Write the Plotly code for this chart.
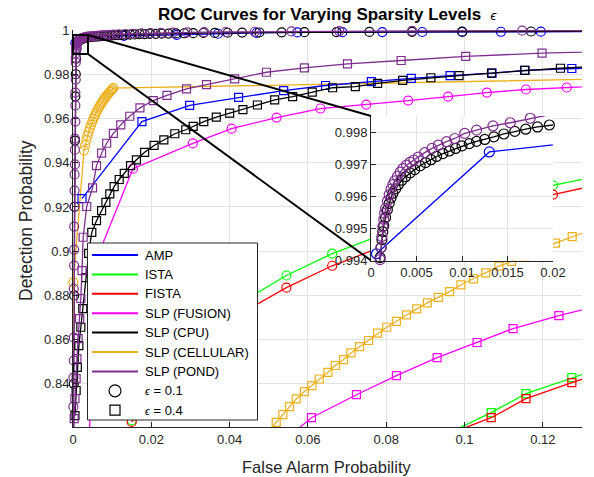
import plotly.graph_objects as go

# ---------------- data ----------------
AMP_E1_X = [0.0006, 0.0130, 0.0265, 0.0370, 0.0469, 0.0573, 0.0688, 0.0790, 0.0892, 0.0994, 0.1093, 0.1195, 0.1400]
AMP_E1_Y = [0.99421, 0.99738, 0.9978, 0.9983, 0.9987, 0.9989, 0.9990, 0.99905, 0.9991, 0.99915, 0.9992, 0.99925, 0.9993]
AMP_E4_X = [0.0023, 0.0176, 0.0298, 0.0423, 0.0538, 0.0645, 0.0762, 0.0864, 0.0963, 0.1070, 0.1154, 0.1274, 0.1400]
AMP_E4_Y = [0.9238, 0.9586, 0.9659, 0.9695, 0.9726, 0.9749, 0.9767, 0.9781, 0.9794, 0.9805, 0.9817, 0.9826, 0.9834]

ISTA_E1_X = [0.0150, 0.0260, 0.0360, 0.0450, 0.0545, 0.0662, 0.0775, 0.0890, 0.1000, 0.1112, 0.1226, 0.1340]
ISTA_E1_Y = [0.8235, 0.8490, 0.8670, 0.8790, 0.8890, 0.8989, 0.9065, 0.9135, 0.9195, 0.9250, 0.9297, 0.9340]
ISTA_E4_X = [0.0960, 0.1068, 0.1157, 0.1274, 0.1380]
ISTA_E4_Y = [0.8178, 0.8270, 0.8356, 0.8428, 0.8490]

FISTA_E1_X = [0.0150, 0.0260, 0.0360, 0.0450, 0.0545, 0.0662, 0.0775, 0.0890, 0.1000, 0.1112, 0.1226, 0.1340]
FISTA_E1_Y = [0.8228, 0.8450, 0.8620, 0.8740, 0.8835, 0.8934, 0.9010, 0.9080, 0.9140, 0.9200, 0.9256, 0.9300]
FISTA_E4_X = [0.0950, 0.1068, 0.1157, 0.1274, 0.1380]
FISTA_E4_Y = [0.8167, 0.8247, 0.8333, 0.8406, 0.8466]

FUSION_E1_X = [0.0040, 0.0052, 0.0153, 0.0306, 0.0405, 0.0520, 0.0632, 0.0749, 0.0856, 0.0958, 0.1057, 0.1157, 0.1261, 0.1380]
FUSION_E1_Y = [0.8000, 0.8928, 0.9373, 0.9487, 0.9554, 0.9604, 0.9645, 0.9663, 0.9681, 0.9699, 0.9717, 0.9731, 0.9740, 0.9750]
FUSION_E4_X = [0.0530, 0.0609, 0.0724, 0.0826, 0.0930, 0.1032, 0.1124, 0.1241, 0.1370]
FUSION_E4_Y = [0.8130, 0.8247, 0.8351, 0.8437, 0.8519, 0.8587, 0.8650, 0.8709, 0.8765]

CPU_E1_X = [0.0000, 0.0002, 0.0003, 0.0004, 0.0005, 0.0006, 0.0007, 0.0008, 0.0009,
            0.0010, 0.0011, 0.0012, 0.0013, 0.0014, 0.0016, 0.0018, 0.0020, 0.0022, 0.0024,
            0.0027, 0.0030, 0.0034, 0.0038, 0.0043, 0.0048, 0.0054, 0.0060, 0.0066, 0.0072,
            0.0079, 0.0086, 0.0093, 0.0100, 0.0108, 0.0116, 0.0125, 0.0135, 0.0146, 0.0158,
            0.0170, 0.0183, 0.0196,
            0.0211, 0.0227, 0.0244, 0.0263, 0.0284, 0.0307, 0.0333, 0.0362, 0.0395, 0.0432,
            0.0476, 0.0533, 0.0591, 0.0673, 0.0757, 0.0866, 0.0994, 0.1170, 0.1450]
CPU_E1_Y = [0.8000, 0.8400, 0.8800, 0.9200, 0.9500, 0.9700, 0.9800, 0.9870, 0.9915,
            0.99409, 0.99440, 0.99465, 0.99490, 0.99508, 0.99534, 0.99558, 0.99578, 0.99595, 0.99609,
            0.99623, 0.99636, 0.99650, 0.99661, 0.99673, 0.99683, 0.99695, 0.99705, 0.99714, 0.99724,
            0.99733, 0.99741, 0.99749, 0.99757, 0.99764, 0.99771, 0.99777, 0.99785, 0.99794, 0.99802,
            0.99809, 0.99816, 0.99822,
            0.99828, 0.99834, 0.99840, 0.99846, 0.99852, 0.99858, 0.99864, 0.99870, 0.99876, 0.99882,
            0.99888, 0.99894, 0.99900, 0.99906, 0.99912, 0.99918, 0.99925, 0.99932, 0.99940]
CPU_E4_X = [0.0005, 0.0008, 0.0011, 0.0015, 0.0020, 0.0025, 0.0032, 0.0040,
            0.0048, 0.0060, 0.0073, 0.0084, 0.0094, 0.0105, 0.0118, 0.0131, 0.0147, 0.0162,
            0.0183, 0.0207, 0.0232, 0.0260, 0.0288, 0.0307, 0.0334, 0.0366, 0.0400, 0.0434,
            0.0471, 0.0515, 0.0561, 0.0611, 0.0663, 0.0721, 0.0778, 0.0842, 0.0914, 0.0986,
            0.1069, 0.1154, 0.1245, 0.1345]
CPU_E4_Y = [0.8256, 0.8370, 0.8475, 0.8573, 0.8656, 0.8740, 0.8880, 0.8990,
            0.9085, 0.9138, 0.9183, 0.9221, 0.9259, 0.9292, 0.9324, 0.9352, 0.9387, 0.9413,
            0.9447, 0.9478, 0.9503, 0.9531, 0.9549, 0.9564, 0.9586, 0.9606, 0.9624, 0.9640,
            0.9661, 0.9684, 0.9699, 0.9719, 0.9739, 0.9744, 0.9759, 0.9772, 0.9784, 0.9794,
            0.9805, 0.9817, 0.9827, 0.9836]

CELL_E1_X = [0.0000, 0.0001, 0.0028, 0.0031, 0.0034, 0.0037, 0.0040, 0.0043, 0.0046, 0.0049,
             0.0052, 0.0055, 0.0058, 0.0061, 0.0064, 0.0067, 0.0070, 0.0073, 0.0076, 0.0079,
             0.0082, 0.0085, 0.0088, 0.0091, 0.0094, 0.0097, 0.0100, 0.0103, 0.2000]
CELL_E1_Y = [0.8000, 0.8859, 0.9456, 0.9480, 0.9502, 0.9522, 0.9540, 0.9556, 0.9571, 0.9585,
             0.9598, 0.9610, 0.9622, 0.9633, 0.9643, 0.9652, 0.9661, 0.9670, 0.9678, 0.9686,
             0.9694, 0.9701, 0.9708, 0.9714, 0.9720, 0.9726, 0.9732, 0.9737, 0.9800]
CELL_E4_X = [0.0502, 0.0519, 0.0536, 0.0553, 0.0570, 0.0591, 0.0610, 0.0629, 0.0651, 0.0670,
             0.0691, 0.0710, 0.0732, 0.0755, 0.0778, 0.0801, 0.0826, 0.0852, 0.0878, 0.0905,
             0.0933, 0.0962, 0.0991, 0.1023, 0.1054, 0.1088, 0.1120, 0.1155, 0.1192, 0.1232,
             0.1275, 0.1320]
CELL_E4_Y = [0.8190, 0.8226, 0.8261, 0.8297, 0.8332, 0.8365, 0.8392, 0.8422, 0.8452, 0.8483,
             0.8510, 0.8540, 0.8568, 0.8596, 0.8629, 0.8656, 0.8683, 0.8712, 0.8739, 0.8766,
             0.8791, 0.8817, 0.8848, 0.8875, 0.8902, 0.8932, 0.8954, 0.8978, 0.9004, 0.9036,
             0.9066, 0.9095]

POND_E1_X = [0.0000, 0.0001, 0.0001, 0.0002, 0.0002, 0.0002, 0.0003, 0.0003, 0.0003, 0.0004,
             0.0004, 0.0004, 0.0005, 0.0005, 0.0005, 0.0006, 0.0006, 0.0006, 0.0007, 0.0007,
             0.0007, 0.0008, 0.0008, 0.0008, 0.0009, 0.0009, 0.0009,
             0.0010, 0.0011, 0.0012, 0.0013, 0.0014, 0.0015, 0.0016, 0.0018, 0.0020, 0.0022,
             0.0024, 0.0026, 0.0029, 0.0032, 0.0035, 0.0039, 0.0043, 0.0047, 0.0052, 0.0059,
             0.0067, 0.0074, 0.0083, 0.0092, 0.0103, 0.0116, 0.0134, 0.0153, 0.0175,
             0.0198, 0.0224, 0.0255, 0.0292, 0.0335, 0.0390, 0.0464, 0.0558, 0.0680, 0.0866,
             0.1147, 0.1500]
POND_E1_Y = [0.8000, 0.8297, 0.8428, 0.8505, 0.8609, 0.8830, 0.8935, 0.9007, 0.9111, 0.9202,
             0.9274, 0.9347, 0.9392, 0.9459, 0.9509, 0.9586, 0.9659, 0.9717, 0.9776, 0.9853,
             0.9875, 0.9895, 0.9910, 0.9920, 0.9928, 0.9934, 0.9938,
             0.99403, 0.99440, 0.99475, 0.99505, 0.99528, 0.99547, 0.99562, 0.99585, 0.99605, 0.99622,
             0.99636, 0.99648, 0.99662, 0.99675, 0.99686, 0.99697, 0.99706, 0.99713, 0.99722, 0.99736,
             0.99749, 0.99759, 0.99770, 0.99780, 0.99796, 0.99806, 0.99819, 0.99829, 0.99843,
             0.99855, 0.99870, 0.99880, 0.99890, 0.99900, 0.99910, 0.99920, 0.99935, 0.99950, 0.99960,
             0.99970, 0.99980]
POND_E4_X = [0.0001, 0.0003, 0.0005, 0.0008, 0.0010, 0.0013, 0.0017, 0.0020, 0.0023, 0.0026,
             0.0035, 0.0050, 0.0060, 0.0073, 0.0086, 0.0103, 0.0122, 0.0145, 0.0171, 0.0205,
             0.0240, 0.0290, 0.0341, 0.0413, 0.0494, 0.0591, 0.0701, 0.0838, 0.1003, 0.1198,
             0.1450]
POND_E4_Y = [0.8150, 0.8243, 0.8333, 0.8424, 0.8514, 0.8605, 0.8695, 0.8786, 0.8912, 0.9063,
             0.9202, 0.9286, 0.9387, 0.9443, 0.9488, 0.9533, 0.9571, 0.9610, 0.9648, 0.9681,
             0.9704, 0.9734, 0.9753, 0.9779, 0.9809, 0.9829, 0.9847, 0.9862, 0.9881, 0.9895,
             0.9908]

METHODS = ["AMP", "ISTA", "FISTA", "SLP (FUSION)", "SLP (CPU)", "SLP (CELLULAR)", "SLP (POND)"]
COLORS = ["#0000FF", "#00FF00", "#FF0000", "#FF00FF", "#000000", "#EDB120", "#7E2F8E"]
EPS_LABELS = ["= 0.1", "= 0.4"]
X_TICKS = [0, 0.02, 0.04, 0.06, 0.08, 0.10, 0.12]
X_TICK_TEXT = ["0", "0.02", "0.04", "0.06", "0.08", "0.1", "0.12"]
Y_TICKS = [0.84, 0.86, 0.88, 0.90, 0.92, 0.94, 0.96, 0.98, 1.0]
Y_TICK_TEXT = ["0.84", "0.86", "0.88", "0.9", "0.92", "0.94", "0.96", "0.98", "1"]
IX_TICKS = [0, 0.005, 0.01, 0.015, 0.02]
IX_TICK_TEXT = ["0", "0.005", "0.01", "0.015", "0.02"]
IY_TICKS = [0.994, 0.995, 0.996, 0.997, 0.998]
IY_TICK_TEXT = ["0.994", "0.995", "0.996", "0.997", "0.998"]

E1 = [(AMP_E1_X, AMP_E1_Y), (ISTA_E1_X, ISTA_E1_Y), (FISTA_E1_X, FISTA_E1_Y), (FUSION_E1_X, FUSION_E1_Y),
      (CPU_E1_X, CPU_E1_Y), (CELL_E1_X, CELL_E1_Y), (POND_E1_X, POND_E1_Y)]
E4 = [(AMP_E4_X, AMP_E4_Y), (ISTA_E4_X, ISTA_E4_Y), (FISTA_E4_X, FISTA_E4_Y), (FUSION_E4_X, FUSION_E4_Y),
      (CPU_E4_X, CPU_E4_Y), (CELL_E4_X, CELL_E4_Y), (POND_E4_X, POND_E4_Y)]

# ---------------- layout geometry (pixels) ----------------
W, H = 594, 477
L, R, T, B = 73, 582, 30, 427
def PX(p):
    return (p - L) / (R - L)
def PY(p):
    return (B - p) / (B - T)

FONT = "Liberation Sans, Arial, Helvetica, sans-serif"
AX = "#262626"
GRID = "#e3e3e3"

fig = go.Figure()

def add(xs, ys, color, symbol, size, xa="x", ya="y"):
    fig.add_trace(go.Scatter(
        x=xs, y=ys, mode="lines+markers", xaxis=xa, yaxis=ya,
        line=dict(color=color, width=1.3),
        marker=dict(symbol=symbol, size=size, color=color, line=dict(color=color, width=1.2)),
        cliponaxis=False, showlegend=False, hoverinfo="skip"))

for (xs, ys), c in zip(E1, COLORS):
    add(xs, ys, c, "circle-open", 9)
for (xs, ys), c in zip(E4, COLORS):
    add(xs, ys, c, "square-open", 8)

# inset (zoomed) copies
for idx in (0, 4, 6):
    xs, ys = E1[idx]
    add(xs, ys, COLORS[idx], "circle-open", 10, "x2", "y2")

axis_common = dict(ticks="inside", ticklen=5, tickwidth=1, tickcolor=AX, showline=True, linecolor=AX,
                   linewidth=1, mirror=False, showgrid=True, gridcolor=GRID, gridwidth=1, zeroline=False,
                   automargin=False, tickfont=dict(family=FONT, size=13, color=AX))

fig.update_layout(
    width=W, height=H, margin=dict(l=L, r=W - R, t=T, b=H - B, autoexpand=False),
    paper_bgcolor="white", plot_bgcolor="white", showlegend=False,
    xaxis=dict(domain=[0, 1], range=[0, 0.13], tickvals=X_TICKS, ticktext=X_TICK_TEXT, anchor="y", **axis_common),
    yaxis=dict(domain=[0, 1], range=[0.8205, 1.0], tickvals=Y_TICKS, ticktext=Y_TICK_TEXT, anchor="x", **axis_common),
    xaxis2=dict(domain=[PX(371), PX(553)], range=[0, 0.02], tickvals=IX_TICKS, ticktext=IX_TICK_TEXT,
                anchor="y2", **axis_common),
    yaxis2=dict(domain=[PY(260.5), PY(116)], range=[0.994, 0.9985], tickvals=IY_TICKS, ticktext=IY_TICK_TEXT,
                anchor="x2", **axis_common),
)

shapes = []
# inset white background (drawn in the inset subplot, above main traces)
shapes.append(dict(type="rect", xref="x2", yref="y2", x0=0, x1=0.02, y0=0.994, y1=0.9985,
                   fillcolor="white", line=dict(width=0), layer="below"))
# zoom rectangle in main axes
shapes.append(dict(type="rect", xref="paper", yref="paper", x0=PX(73), x1=PX(88), y0=PY(54), y1=PY(35),
                   line=dict(color="black", width=2), layer="above"))
# connector lines
shapes.append(dict(type="line", xref="paper", yref="paper", x0=PX(88), y0=PY(35), x1=PX(371), y1=PY(116),
                   line=dict(color="black", width=2), layer="above"))
shapes.append(dict(type="line", xref="paper", yref="paper", x0=PX(88), y0=PY(54), x1=PX(371), y1=PY(260.5),
                   line=dict(color="black", width=2), layer="above"))
# legend box
LX0, LX1, LY0, LY1 = 87.5, 257.5, 243, 420
shapes.append(dict(type="rect", xref="paper", yref="paper", x0=PX(LX0), x1=PX(LX1), y0=PY(LY1), y1=PY(LY0),
                   fillcolor="white", line=dict(color=AX, width=1), layer="above"))

annotations = []
ROW0, DROW = 255, 19.4
for i, (name, c) in enumerate(zip(METHODS, COLORS)):
    yy = ROW0 + i * DROW
    shapes.append(dict(type="line", xref="paper", yref="paper", x0=PX(92), x1=PX(138), y0=PY(yy), y1=PY(yy),
                       line=dict(color=c, width=2), layer="above"))
    annotations.append(dict(xref="paper", yref="paper", x=PX(143), y=PY(yy), text=name, showarrow=False,
                            xanchor="left", yanchor="middle", font=dict(family=FONT, size=13, color="black")))
# marker legend entries
yc = ROW0 + 7 * DROW
shapes.append(dict(type="circle", xref="paper", yref="paper", x0=PX(109), x1=PX(121), y0=PY(yc + 6), y1=PY(yc - 6),
                   line=dict(color="black", width=1.2), layer="above"))
ys_ = ROW0 + 8 * DROW
shapes.append(dict(type="rect", xref="paper", yref="paper", x0=PX(110), x1=PX(120), y0=PY(ys_ + 5), y1=PY(ys_ - 5),
                   line=dict(color="black", width=1.2), layer="above"))
for k, lab in enumerate(EPS_LABELS):
    yy = ROW0 + (7 + k) * DROW
    annotations.append(dict(xref="paper", yref="paper", x=PX(143), y=PY(yy),
                            text="<i><span style='font-size:11px'>\u03f5</span></i> " + lab, showarrow=False,
                            xanchor="left", yanchor="middle", font=dict(family=FONT, size=13, color="black")))

# title and axis labels
annotations.append(dict(xref="paper", yref="paper", x=PX(327.5), y=PY(15), showarrow=False,
                        text="<b>ROC Curves for Varying Sparsity Levels</b>  <span style='font-size:13px'><i>\u03f5</i></span>",
                        xanchor="center", yanchor="middle", font=dict(family=FONT, size=17, color="black")))
annotations.append(dict(xref="paper", yref="paper", x=PX(326), y=PY(467), showarrow=False,
                        text="False Alarm Probability", xanchor="center", yanchor="middle",
                        font=dict(family=FONT, size=16.5, color=AX)))
annotations.append(dict(xref="paper", yref="paper", x=PX(26), y=PY(221), showarrow=False, textangle=-90,
                        text="Detection Probability", xanchor="center", yanchor="middle",
                        font=dict(family=FONT, size=17.5, color=AX)))

fig.update_layout(shapes=shapes, annotations=annotations)
fig.write_html("out.html")
